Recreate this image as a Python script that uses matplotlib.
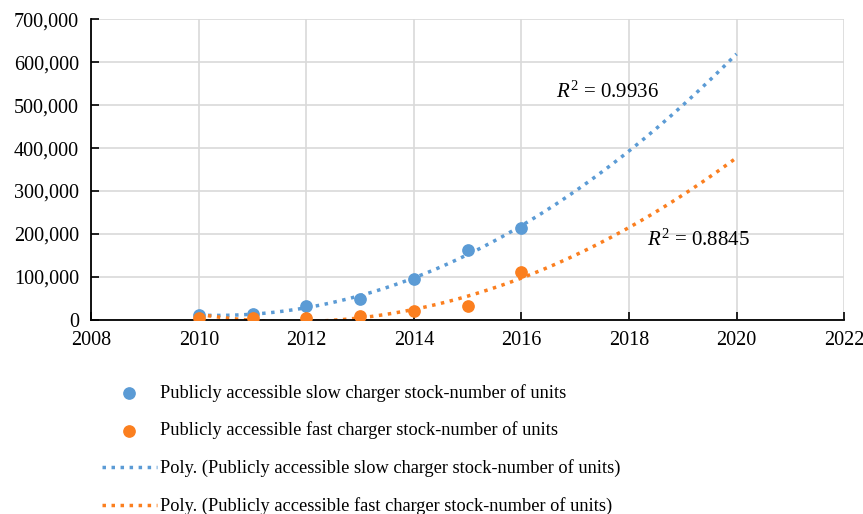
import numpy as np
import matplotlib
matplotlib.use('Agg')
from matplotlib import pyplot as plt
from matplotlib.ticker import FuncFormatter

plt.rcParams['font.family'] = ['Liberation Serif', 'DejaVu Serif']
plt.rcParams['mathtext.fontset'] = 'custom'
plt.rcParams['mathtext.rm'] = 'Liberation Serif'
plt.rcParams['mathtext.it'] = 'Liberation Serif:italic'

years = [2010, 2011, 2012, 2013, 2014, 2015, 2016]
slow = [10000, 13000, 32000, 47500, 95000, 162500, 214000]
fast = [4000, 4000, 4000, 9000, 19500, 32500, 111500]

slow_label = 'Publicly accessible slow charger stock-number of units'
fast_label = 'Publicly accessible fast charger stock-number of units'

blue = '#5b9bd5'
orange = '#fb7f1f'

fig = plt.figure(figsize=(8.63, 5.14), dpi=100)
ax = fig.add_axes([0.106, 0.3784, 0.872, 0.5837])

# 2nd order polynomial trendlines, forecast to 2020
xs = np.linspace(2010, 2020, 200)
p_slow = np.polyfit(years, slow, 2)
p_fast = np.polyfit(years, fast, 2)

ax.scatter(years, slow, s=66, color=blue, zorder=3, label=slow_label)
ax.scatter(years, fast, s=66, color=orange, zorder=3, label=fast_label)
ax.plot(xs, np.polyval(p_slow, xs), color=blue, lw=2.5, ls=(0, (1, 1.6)),
        zorder=2, label='Poly. (' + slow_label + ')')
ax.plot(xs, np.polyval(p_fast, xs), color=orange, lw=2.5, ls=(0, (1, 1.6)),
        zorder=2, label='Poly. (' + fast_label + ')')

ax.text(2016.64, 530000, r'$R^2$ = 0.9936', fontsize=15, va='center')
ax.text(2018.33, 185000, r'$R^2$ = 0.8845', fontsize=15, va='center')

ax.set_xlim(2008, 2022)
ax.set_ylim(0, 700000)
ax.set_xticks(range(2008, 2023, 2))
ax.set_yticks(range(0, 700001, 100000))
ax.yaxis.set_major_formatter(FuncFormatter(lambda v, p: f'{int(v):,}'))
ax.tick_params(direction='in', length=6, width=1.2, labelsize=14.5, colors='black')
ax.tick_params(axis='x', pad=8)
ax.tick_params(axis='y', pad=9)
ax.grid(True, color='#d9d9d9', lw=1.2)
ax.set_axisbelow(True)
for s in ['top', 'right']:
    ax.spines[s].set_visible(False)
for s in ['left', 'bottom']:
    ax.spines[s].set_linewidth(1.3)

fig.legend(loc='upper left', bbox_to_anchor=(0.118, 0.2535), frameon=False,
           fontsize=13.2, handlelength=3.0, handletextpad=0.15, labelspacing=1.09,
           borderaxespad=0, borderpad=0)

fig.savefig('out.png', dpi=100)
